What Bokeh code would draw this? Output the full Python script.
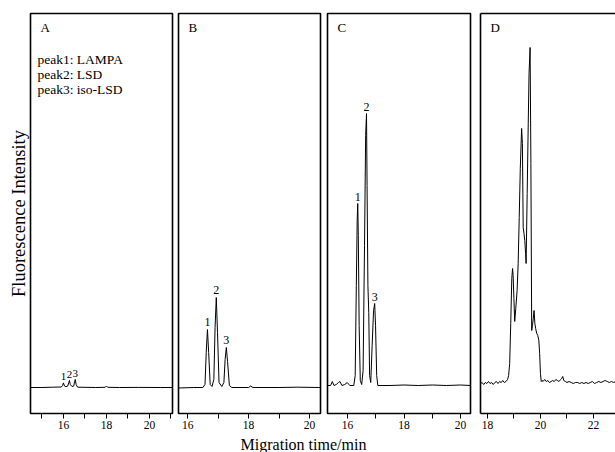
from bokeh.plotting import figure
from bokeh.layouts import row, column
from bokeh.models import FixedTicker, Range1d, Label, LinearAxis, ColumnDataSource
from bokeh.embed import file_html
from bokeh.resources import INLINE
from bokeh.core.properties import value

FONT = "Liberation Serif"

panel_names = ["A", "B", "C", "D"]
legend_lines = ["peak1: LAMPA", "peak2: LSD", "peak3: iso-LSD"]
x_title = "Migration time/min"
y_title = "Fluorescence Intensity"

# ---- Panel A (trace) ----
a_time = [14.47, 15.0, 15.5, 15.9, 15.96, 16.0, 16.05, 16.12, 16.2, 16.25, 16.28, 16.32,
          16.4, 16.48, 16.52, 16.55, 16.59, 16.66, 17.0, 17.5, 17.94, 18.0, 18.06, 18.6,
          19.5, 20.5, 21.07]
a_int = [0, 0, 0.3, 0.5, 2, 4.6, 1.5, 0.8, 1.5, 5, 7, 3,
         1, 1.5, 6, 8, 3, 0.3, 0.2, 0, 0.2, 1.5, 0.2, 0,
         0.1, 0, 0]
a_peak_t = [16.0, 16.28, 16.55]
a_peak_h = [4.6, 7, 8]

# ---- Panel B ----
b_time = [15.70, 16.2, 16.5, 16.57, 16.61, 16.65, 16.69, 16.74, 16.80, 16.86, 16.90, 16.94,
          16.98, 17.03, 17.12, 17.19, 17.23, 17.27, 17.31, 17.37, 17.45, 18.0, 18.07,
          18.14, 19.0, 19.6, 20.36]
b_int = [-0.5, 0, 0, 3, 35, 58, 35, 3, 1, 8, 60, 90,
         55, 5, 1, 5, 28, 40, 26, 2, 0, 0, 1.5,
         0, 0, 0.3, 0]
b_peak_t = [16.65, 16.94, 17.27]
b_peak_h = [58, 90, 40]

# ---- Panel C ----
c_time = [15.29, 15.40, 15.46, 15.52, 15.60, 15.68, 15.73, 15.80, 15.90, 15.99, 16.08,
          16.22, 16.27, 16.31, 16.34, 16.36, 16.38, 16.41, 16.45, 16.50, 16.55, 16.60,
          16.64, 16.67, 16.69, 16.72, 16.75, 16.78, 16.82, 16.87, 16.92, 16.96, 16.99,
          17.03, 17.07, 17.5, 18.0, 18.5, 19.0, 19.5, 20.0, 20.35]
c_int = [2, 2, 6, 2, 3, 5, 6, 2, 3, 5, 2,
         2, 12, 102, 167, 184, 152, 62, 7, 3, 17, 142,
         252, 274, 202, 102, 75, 12, 5, 42, 77, 84, 62,
         12, 2, 2, 2.5, 2, 2.5, 2, 2.5, 2]
c_peak_t = [16.36, 16.67, 16.96]
c_peak_h = [184, 274, 84]

# ---- Panel D ----
d_time = [17.74, 17.80, 17.86, 17.92, 17.98, 18.04, 18.10, 18.16, 18.22, 18.28, 18.34,
          18.40, 18.46, 18.52, 18.58, 18.64, 18.70, 18.76, 18.80, 18.84, 18.88, 18.92,
          18.95, 18.97, 19.00, 19.03, 19.07, 19.12, 19.16, 19.20, 19.24, 19.29, 19.32,
          19.35, 19.38, 19.41, 19.44, 19.46, 19.50, 19.54, 19.57, 19.61, 19.64, 19.67,
          19.70, 19.73, 19.76, 19.79, 19.82, 19.86, 19.90, 19.94, 19.97, 20.00, 20.03,
          20.06, 20.10, 20.16, 20.22, 20.28, 20.34, 20.40, 20.46, 20.52, 20.58, 20.64,
          20.70, 20.76, 20.80, 20.84, 20.88, 20.94, 21.00, 21.08, 21.16, 21.24, 21.32,
          21.40, 21.48, 21.56, 21.64, 21.72, 21.80, 21.88, 21.96, 22.04, 22.12, 22.20,
          22.28, 22.36, 22.44, 22.52, 22.60, 22.68, 22.76, 22.83]
d_int = [4, 5, 3, 5, 4, 6, 4, 5, 3, 5, 6,
         4, 6, 5, 7, 5, 6, 8, 12, 24, 64, 109,
         119, 112, 89, 66, 79, 97, 124, 170, 219, 259, 244,
         160, 154, 147, 134, 124, 194, 264, 314, 340, 224, 57,
         62, 69, 77, 64, 59, 54, 52, 47, 34, 14, 6,
         7, 6, 8, 6, 7, 5, 6, 7, 6, 8, 7,
         6, 8, 9, 11, 7, 6, 5, 6, 5, 4, 5,
         5, 4, 5, 4, 5, 4, 5, 6, 4, 5, 6,
         5, 6, 7, 6, 5, 6, 5, 6, 5]

Y0, Y1 = -26, 374
TOP, BOTTOM = 13, 20
FRAME_H = Y1 - Y0
H = TOP + FRAME_H + BOTTOM


def make_panel(width, bl, br, xr, major, minor, letter, boxed=True):
    p = figure(width=width, height=H, x_range=Range1d(*xr), y_range=Range1d(Y0, Y1),
               output_backend="svg", toolbar_location=None,
               min_border_left=bl, min_border_right=br,
               min_border_top=TOP, min_border_bottom=BOTTOM)
    p.grid.visible = False
    p.background_fill_color = "white"
    p.border_fill_color = "white"
    if boxed:
        p.outline_line_color = "black"
        p.outline_line_width = 1.6
        p.xaxis.axis_line_color = None
    else:
        p.outline_line_color = None
        p.xaxis.axis_line_color = "black"
        p.xaxis.axis_line_width = 1.6
    p.xaxis.ticker = FixedTicker(ticks=major, minor_ticks=minor)
    p.xaxis.major_tick_out = 5
    p.xaxis.major_tick_in = 0
    p.xaxis.minor_tick_out = 5
    p.xaxis.minor_tick_in = 0
    p.xaxis.major_tick_line_color = "black"
    p.xaxis.minor_tick_line_color = "black"
    p.xaxis.major_label_text_font = FONT
    p.xaxis.major_label_text_font_size = "11.5px"
    p.xaxis.major_label_text_color = "black"
    p.xaxis.major_label_standoff = 2
    scale = (width - bl - br) / (xr[1] - xr[0])
    p.add_layout(Label(x=xr[0] + 10 / scale, y=360, text=letter, text_font=FONT,
                       text_font_size="13px", text_baseline="middle", text_color="black"))
    return p, scale


# Panel A
pA, sA = make_panel(175, 30, 3, (14.47, 21.07), [16, 18, 20], [15, 17, 19, 21], panel_names[0])
pA.yaxis.ticker = FixedTicker(ticks=[])
pA.yaxis.axis_line_color = None
pA.yaxis.major_label_text_font_size = "0px"
pA.yaxis.axis_label = y_title
pA.yaxis.axis_label_text_font = FONT
pA.yaxis.axis_label_text_font_size = "18.5px"
pA.yaxis.axis_label_text_font_style = "normal"
pA.yaxis.axis_label_text_color = "black"
pA.yaxis.axis_label_standoff = 2
pA.line(a_time, a_int, line_color="black", line_width=1)
for i, t in enumerate(legend_lines):
    pA.add_layout(Label(x=14.47 + 7 / sA, y=328 - 15 * i, text=t, text_font=FONT,
                        text_font_size="13.5px", text_baseline="middle", text_color="black"))
srcA = ColumnDataSource(dict(x=a_peak_t, y=[h + 3 for h in a_peak_h], t=["1", "2", "3"]))
pA.text("x", "y", text="t", source=srcA, text_font=value(FONT), text_font_size="11px",
        text_align="center", text_baseline="bottom", text_color="black")

# Panel B
pB, sB = make_panel(148, 3, 3, (15.70, 20.36), [16, 18, 20], [17, 19], panel_names[1])
pB.yaxis.visible = False
pB.line(b_time, b_int, line_color="black", line_width=1)
srcB = ColumnDataSource(dict(x=b_peak_t, y=[h + 4 for h in b_peak_h], t=["1", "2", "3"]))
pB.text("x", "y", text="t", source=srcB, text_font=value(FONT), text_font_size="12px",
        text_align="center", text_baseline="bottom", text_color="black")

# Panel C
pC, sC = make_panel(152, 4, 5, (15.29, 20.35), [16, 18, 20], [17, 19], panel_names[2])
pC.yaxis.visible = False
pC.line(c_time, c_int, line_color="black", line_width=1)
srcC = ColumnDataSource(dict(x=c_peak_t, y=[h + 3 for h in c_peak_h], t=["1", "2", "3"]))
pC.text("x", "y", text="t", source=srcC, text_font=value(FONT), text_font_size="12px",
        text_align="center", text_baseline="bottom", text_color="black")

# Panel D (box cut off at the right edge)
pD, sD = make_panel(140, 5, 0, (17.74, 22.83), [18, 20, 22], [19, 21], panel_names[3], boxed=False)
pD.yaxis.ticker = FixedTicker(ticks=[])
pD.yaxis.major_label_text_font_size = "0px"
pD.yaxis.major_label_standoff = 0
pD.yaxis.axis_line_color = "black"
pD.yaxis.axis_line_width = 1.6
top_axis = LinearAxis(ticker=FixedTicker(ticks=[]), major_label_text_font_size="0px",
                      major_label_standoff=0, axis_line_color="black", axis_line_width=1.6)
pD.add_layout(top_axis, "above")
pD.line(d_time, d_int, line_color="black", line_width=1)

# x axis title strip
LH = 452 - H
pX = figure(width=615, height=LH, x_range=Range1d(0, 615), y_range=Range1d(0, LH),
            output_backend="svg", toolbar_location=None, min_border=0)
pX.axis.visible = False
pX.grid.visible = False
pX.outline_line_color = None
pX.add_layout(Label(x=303, y=LH - 11, text=x_title, text_font=FONT, text_font_size="16px",
                    text_align="center", text_baseline="middle", text_color="black"))

layout = column(row(pA, pB, pC, pD, spacing=0), pX, spacing=0)
open("out.html", "w").write(file_html(layout, INLINE))
